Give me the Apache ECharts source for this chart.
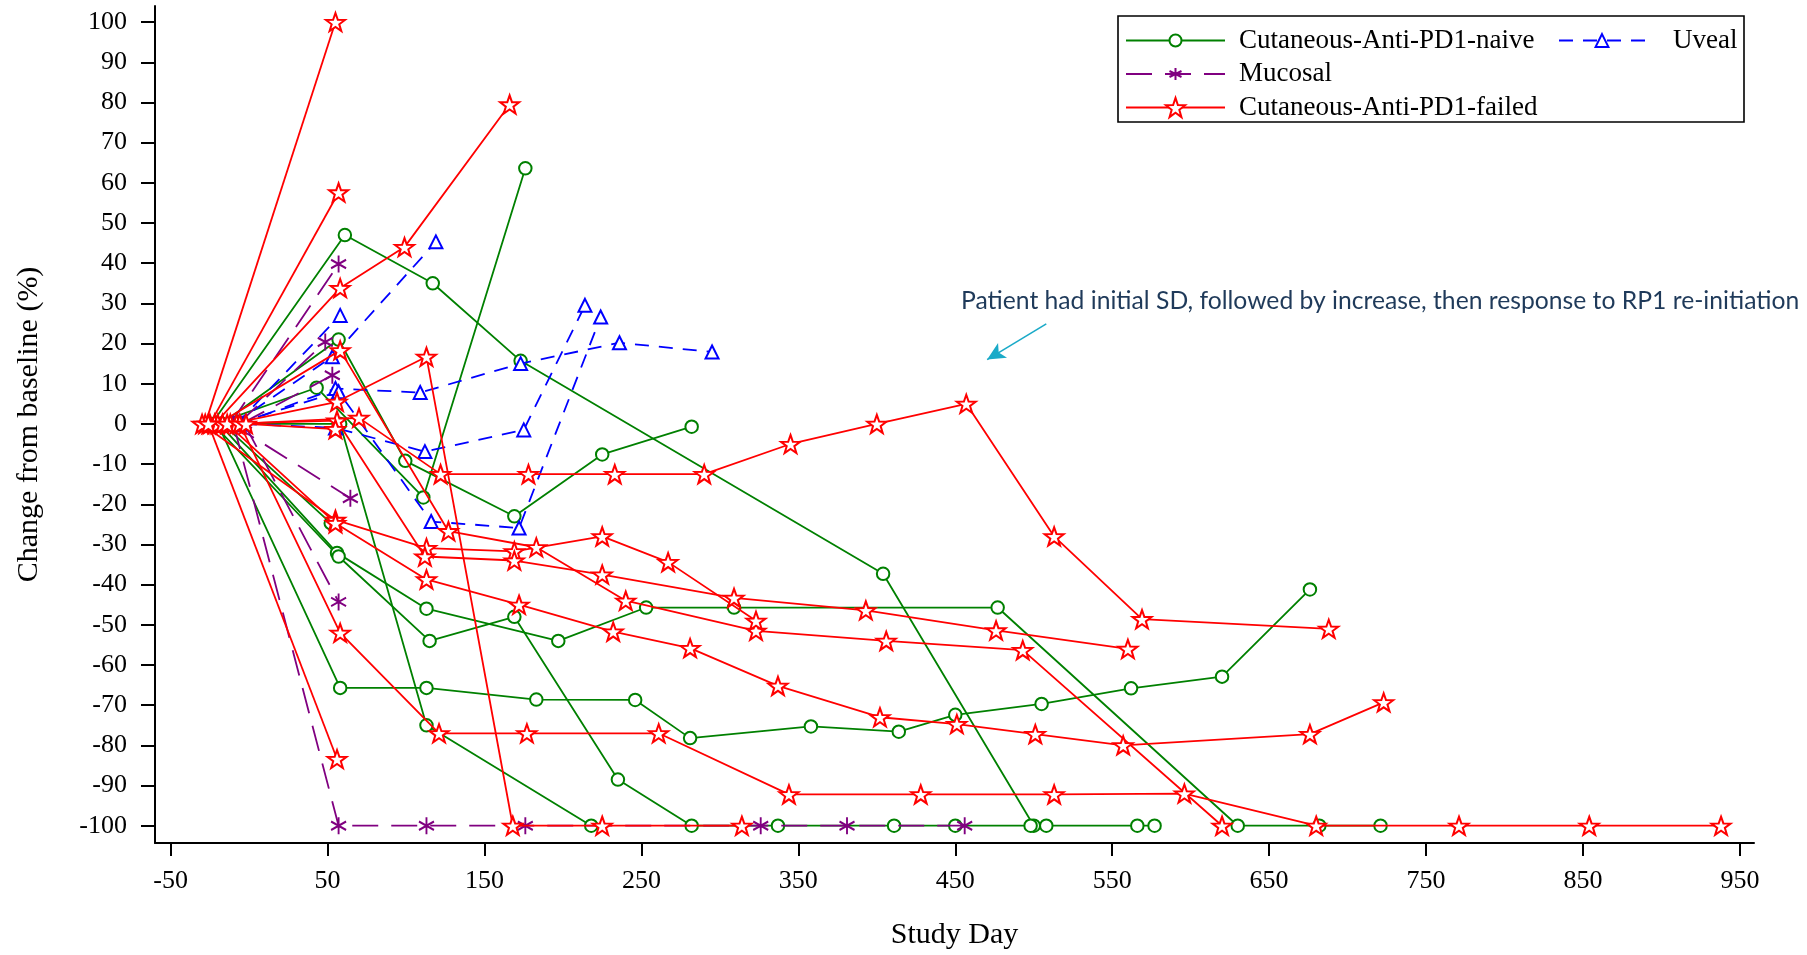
<!DOCTYPE html>
<html><head><meta charset="utf-8">
<script src="https://cdn.jsdelivr.net/npm/echarts@6/dist/echarts.min.js"></script>
<style>html,body{margin:0;padding:0;background:#fff}#c{width:1807px;height:955px}</style>
</head><body><div id="c"></div>
<script>
// ---- tick values ----
const xTicks = [-50, 50, 150, 250, 350, 450, 550, 650, 750, 850, 950];
const yTicks = [-100, -90, -80, -70, -60, -50, -40, -30, -20, -10, 0, 10, 20, 30, 40, 50, 60, 70, 80, 90, 100];

// ---- group names ----
const NAIVE = 'Cutaneous-Anti-PD1-naive';
const UVEAL = 'Uveal';
const MUCOSAL = 'Mucosal';
const FAILED = 'Cutaneous-Anti-PD1-failed';

// ---- Cutaneous-Anti-PD1-naive (one inner array per patient) ----
const naiveDays = [
  [-24, 61, 117, 173, 404, 500, 566, 577],
  [-22, 43, 111, 176],
  [-18, 57, 99.5, 169, 225, 282],
  [-19, 56, 113, 197, 253, 309, 477, 630, 682, 721],
  [-23, 57, 115, 169, 235, 282, 337, 411, 450, 498, 508],
  [-20, 58, 113, 183, 246, 281, 358, 414, 450, 505, 562, 620, 676],
  [-21, 58, 113, 218],
  [-17, 52]
];
const naivePct = [
  [0, 47, 35, 15.7, -37.3, -100, -100, -100],
  [0, 9, -18.3, 63.6],
  [0, 21, -9.2, -23, -7.6, -0.7],
  [0, -32.1, -46, -54, -45.7, -45.7, -45.7, -100, -100, -100],
  [0, -33, -54, -48, -88.5, -100, -100, -100, -100, -100, -100],
  [0, -65.7, -65.7, -68.6, -68.7, -78.2, -75.3, -76.6, -72.4, -69.7, -65.8, -62.9, -41.2],
  [0, 0, -75, -100],
  [0, -24.7]
];

// ---- Uveal ----
const uvealDays = [
  [-10, 53, 119],
  [-8, 58],
  [-6, 55, 109, 173, 236, 295],
  [-4, 55, 112, 175, 214],
  [-9, 57, 116, 172, 224]
];
const uvealPct = [
  [0, 16.7, 45.3],
  [0, 27],
  [0, 8.8, 7.8, 15, 20.2, 17.9],
  [0, -1, -6.9, -1.5, 29.5],
  [0, 8, -24.3, -25.9, 26.6]
];

// ---- Mucosal ----
const mucosalDays = [
  [-12, 57],
  [-7, 48.5],
  [-5, 53],
  [-11, 64.5],
  [-3, 57],
  [-10, 57, 113, 176, 326, 381, 456]
];
const mucosalPct = [
  [0, 39.8],
  [0, 20.4],
  [0, 12.1],
  [0, -18.5],
  [0, -44.3],
  [0, -100, -100, -100, -100, -100, -100]
];

// ---- Cutaneous-Anti-PD1-failed ----
const failedDays = [
  [-28, 55],
  [-25, 57],
  [-22, 58, 99, 166],
  [-20, 58, 127, 183, 240, 323, 406, 493, 620],
  [-12, 56, 113, 168, 225, 314],
  [-8, 70, 122, 178, 233, 290, 345, 400, 457, 513, 569, 688],
  [-30, 55, 113, 169, 225, 267, 323],
  [-17, 56, 112, 169, 225, 309, 393, 476, 560],
  [-14, 55, 113, 172, 232, 281, 337, 402, 451, 501, 557, 676, 723],
  [-6, 58, 121, 177, 261, 344, 428, 513, 596, 680, 771, 854, 938],
  [-26, 56],
  [-2, 55]
];
const failedPct = [
  [0, 100],
  [0, 57.6],
  [0, 33.8, 44, 79.5],
  [0, 18.3, -26.7, -30.7, -44, -51.5, -54, -56.3, -100],
  [0, 5.5, 16.7, -100, -100, -100],
  [0, 1.5, -12.5, -12.5, -12.5, -12.5, -5, 0, 5, -28, -48.6, -51],
  [0, -23.9, -30.9, -31.7, -28, -34.4, -49],
  [0, 0.8, -33, -34, -37.5, -43.3, -46.4, -51.4, -56],
  [0, -24.7, -38.7, -45, -51.7, -55.8, -65.2, -73, -74.7, -77.2, -80, -77.2, -69.3],
  [0, -52, -77, -77, -77, -92.2, -92.2, -92.2, -92, -100, -100, -100, -100],
  [0, -83.4],
  [0, -1.3]
];

// annotation arrow (data coordinates: day, % change)
const arrowFrom = [508, 24.9];
const arrowTo = [470.3, 16];

const STAR = 'path://M100,0L123.5,67.6L195.1,69.1L138,112.4L158.8,180.9L100,140L41.2,180.9L62,112.4L4.9,69.1L76.5,67.6Z';
const ASTER = 'path://M50,0L50,100M6.7,25L93.3,75M6.7,75L93.3,25';

const styles = {};
styles[NAIVE] = { symbol: 'emptyCircle', symbolSize: 12.5, keep: false,
  lineStyle: { color: '#008000', width: 1.8, type: 'solid' },
  itemStyle: { color: '#008000', borderColor: '#008000', borderWidth: 1.8 } };
styles[UVEAL] = { symbol: 'emptyTriangle', symbolSize: 13, keep: false,
  lineStyle: { color: '#0000FF', width: 1.8, type: [14, 10] },
  itemStyle: { color: '#0000FF', borderColor: '#0000FF', borderWidth: 1.8 } };
styles[MUCOSAL] = { symbol: ASTER, symbolSize: [15, 17], keep: false,
  lineStyle: { color: '#800080', width: 1.8, type: [26, 13] },
  itemStyle: { color: 'transparent', borderColor: '#800080', borderWidth: 2 } };
styles[FAILED] = { symbol: STAR, symbolSize: 19, keep: true,
  lineStyle: { color: '#FF0000', width: 1.8, type: 'solid' },
  itemStyle: { color: '#FFFFFF', borderColor: '#FF0000', borderWidth: 2 } };

function build(name, daysArr, pctArr, z) {
  const st = styles[name];
  return daysArr.map((days, i) => ({
    name: name,
    type: 'line',
    data: days.map((d, j) => [d, pctArr[i][j]]),
    symbol: st.symbol,
    symbolSize: st.symbolSize,
    symbolKeepAspect: st.keep,
    showAllSymbol: true,
    lineStyle: st.lineStyle,
    itemStyle: st.itemStyle,
    emphasis: { disabled: true },
    silent: true,
    animation: false,
    z: z
  }));
}

const series = [].concat(
  build(NAIVE, naiveDays, naivePct, 2),
  build(UVEAL, uvealDays, uvealPct, 3),
  build(MUCOSAL, mucosalDays, mucosalPct, 4),
  build(FAILED, failedDays, failedPct, 5)
);
series.push({
  name: 'annotation', type: 'line', data: [], silent: true, animation: false,
  markLine: {
    silent: true, animation: false,
    symbol: ['none', 'arrow'], symbolSize: [13, 18],
    lineStyle: { color: '#1AAAC8', width: 1.6, type: 'solid' },
    label: { show: false },
    data: [[{ coord: arrowFrom }, { coord: arrowTo }]]
  }
});

const FONT = 'Liberation Serif';
const legTxt = { fontFamily: FONT, fontSize: 27, color: '#000', lineHeight: 30 };
function leg(name, left, top, w, h, padL) {
  return {
    data: [name], left: left, top: top, padding: 0,
    itemWidth: w, itemHeight: h, selectedMode: false,
    textStyle: Object.assign({}, legTxt, { padding: [0, 0, 0, padL] })
  };
}

const chart = echarts.init(document.getElementById('c'), null, { renderer: 'canvas' });
chart.setOption({
  animation: false,
  backgroundColor: '#fff',
  grid: { left: 155, right: 53, top: 6, bottom: 109, containLabel: false },
  xAxis: {
    type: 'value', min: -60, max: 959,
    name: 'Study Day', nameLocation: 'middle', nameGap: 77,
    nameTextStyle: { fontFamily: FONT, fontSize: 30, color: '#000' },
    axisLine: { show: true, onZero: false, lineStyle: { color: '#000', width: 2 } },
    axisTick: { show: true, customValues: xTicks, length: 13, lineStyle: { color: '#000', width: 2 } },
    axisLabel: { customValues: xTicks, margin: 25, fontFamily: FONT, fontSize: 26, color: '#000' },
    splitLine: { show: false }
  },
  yAxis: {
    type: 'value', min: -104.3, max: 104,
    name: 'Change from baseline (%)', nameLocation: 'middle', nameGap: 111,
    nameTextStyle: { fontFamily: FONT, fontSize: 30, color: '#000' },
    axisLine: { show: true, onZero: false, lineStyle: { color: '#000', width: 2 } },
    axisTick: { show: true, customValues: yTicks, length: 14, lineStyle: { color: '#000', width: 2 } },
    axisLabel: { customValues: yTicks, margin: 28, fontFamily: FONT, fontSize: 26, color: '#000' },
    splitLine: { show: false }
  },
  legend: [
    leg(NAIVE, 1125, 25.5, 99, 15, 9),
    leg(UVEAL, 1558, 25.5, 86, 16, 23),
    leg(MUCOSAL, 1125, 59, 99, 15, 9),
    leg(FAILED, 1125, 92.5, 99, 24, 9)
  ],
  graphic: [
    { type: 'rect', silent: true, shape: { x: 1118, y: 16, width: 626, height: 106 },
      style: { fill: 'none', stroke: '#000', lineWidth: 1.6 } },
    { type: 'text', silent: true, left: 961, top: 289,
      style: { text: 'Patient had initial SD, followed by increase, then response to RP1 re-initiation',
        font: '24.7px Lato', fill: '#1F3A5A' } }
  ],
  series: series
});
</script>
</body></html>
